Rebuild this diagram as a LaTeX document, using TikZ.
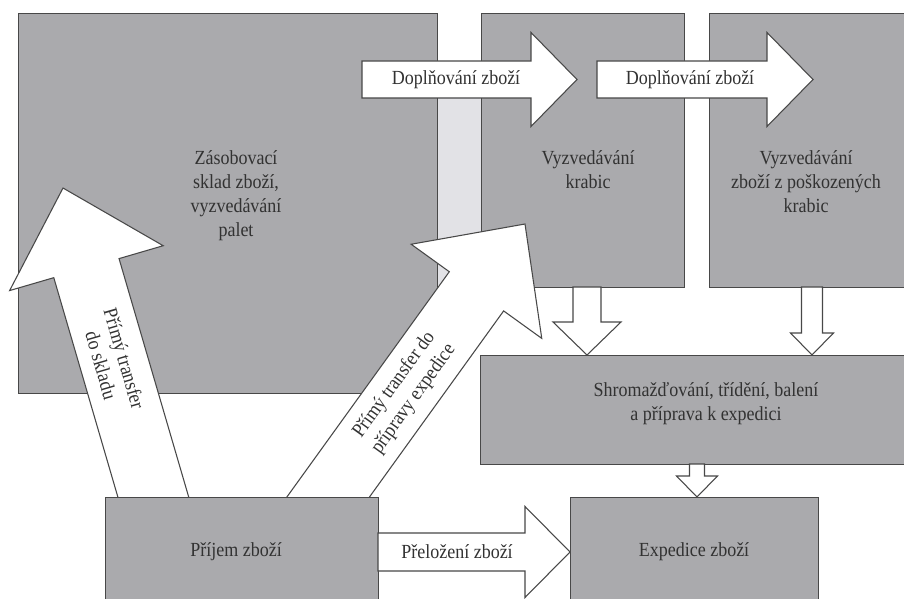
\documentclass[tikz,border=0pt]{standalone}
\usepackage{fontspec}
\setmainfont{Liberation Serif}[FakeStretch=0.9]
\usetikzlibrary{calc}

\definecolor{seda}{RGB}{170,170,173}
\definecolor{svetla}{RGB}{226,226,230}
\definecolor{linka}{RGB}{72,72,72}
\definecolor{pismo}{RGB}{50,50,50}

\def\px{0.75pt}

% #1 tail, #2 tip, #3 half body, #4 half head, #5 head length
\newcommand\sipka[5]{%
	\coordinate (#2-z) at ($(#2)!#5*\px!(#1)$);
	\filldraw[sipkastyl]
	($(#1)!#3*\px!90:(#2)$) --
	($(#2-z)!#3*\px!90:(#2)$) --
	($(#2-z)!#4*\px!90:(#2)$) --
	(#2) --
	($(#2-z)!#4*\px!-90:(#2)$) --
	($(#2-z)!#3*\px!-90:(#2)$) --
	($(#1)!#3*\px!-90:(#2)$) -- cycle;
}

\tikzset{
	blok/.style={draw=linka, fill=seda, line width=0.8pt, inner sep=0pt, anchor=north west},
	sipkastyl/.style={draw=linka, fill=white, line width=0.8pt, line join=miter},
	popis/.style={text=pismo, font=\fontsize{15}{18}\selectfont, align=center, inner sep=0pt},
}

\begin{document}
\begin{tikzpicture}[x=0.75pt, y=-0.75pt]
	%\draw[help lines] (0,0) grid (904,599);
	\useasboundingbox (0,0) rectangle (904,599);
	\clip (0,0) rectangle (904,599);
	\fill[white] (0,0) rectangle (904,599);

	\path
	coordinate (dopl1t) at (362,79.5)
	coordinate (dopl1h) at (577,79.5)
	coordinate (dopl2t) at (597,79.5)
	coordinate (dopl2h) at (813,79.5)
	coordinate (prelt) at (378,552)
	coordinate (prelh) at (570,552)
	coordinate (dolu1t) at (587,287)
	coordinate (dolu1h) at (587,355)
	coordinate (dolu2t) at (812,287)
	coordinate (dolu2h) at (812,355)
	coordinate (dolu3t) at (697,464)
	coordinate (dolu3h) at (697,497)
	coordinate (prim1t) at (160,520)
	coordinate (prim1h) at (63,188)
	coordinate (prim2t) at (308,525)
	coordinate (prim2h) at (525,224)
	;

	% svetly pruh mezi sklady
	\fill[svetla] (437,98) rectangle (481,285);

	\node[blok, minimum width=419*\px, minimum height=380*\px] (sklad) at (18,13) {};
	\node[blok, minimum width=203*\px, minimum height=274*\px] (krabice) at (481,13) {};
	\node[blok, minimum width=215*\px, minimum height=274*\px] (poskoz) at (709,13) {};
	\node[blok, minimum width=440*\px, minimum height=109*\px] (shrom) at (480,355) {};

	\sipka{prim1t}{prim1h}{34}{80}{83.5}
	\sipka{prim2t}{prim2h}{33.5}{80.5}{83}
	\sipka{dopl1t}{dopl1h}{18.5}{47}{46}
	\sipka{dopl2t}{dopl2h}{18.5}{47}{46}

	\node[blok, minimum width=273*\px, minimum height=115*\px] (prijem) at (105,497) {};
	\node[blok, minimum width=248*\px, minimum height=115*\px] (exped) at (570,497) {};

	\sipka{prelt}{prelh}{19}{45.5}{45}
	\sipka{dolu1t}{dolu1h}{14}{34}{33}
	\sipka{dolu2t}{dolu2h}{10.5}{21.5}{22}
	\sipka{dolu3t}{dolu3h}{7.5}{20.5}{21}

	\node[popis] (tsklad) at (236,196) {Zásobovací\\sklad zboží,\\vyzvedávání\\palet};
	\node[popis] (tkrabice) at (588,170) {Vyzvedávání\\krabic};
	\node[popis] (tposkoz) at (806,182) {Vyzvedávání\\zboží z poškozených\\krabic};
	\node[popis] (tshrom) at (706,404) {Shromažďování, třídění, balení\\a příprava k expedici};
	\node[popis] (tprijem) at (236,552) {Příjem zboží};
	\node[popis] (texped) at (694,552) {Expedice zboží};
	\node[popis] (tdopl1) at (456,80) {Doplňování zboží};
	\node[popis] (tdopl2) at (690,80) {Doplňování zboží};
	\node[popis] (tprel) at (457,552) {Přeložení zboží};
	\node[popis, rotate=-73.8] (tprim1) at (113,362) {Přímý transfer\\do skladu};
	\node[popis, rotate=54.2] (tprim2) at (404,392) {Přímý transfer do\\přípravy expedice};

\end{tikzpicture}
\end{document}
